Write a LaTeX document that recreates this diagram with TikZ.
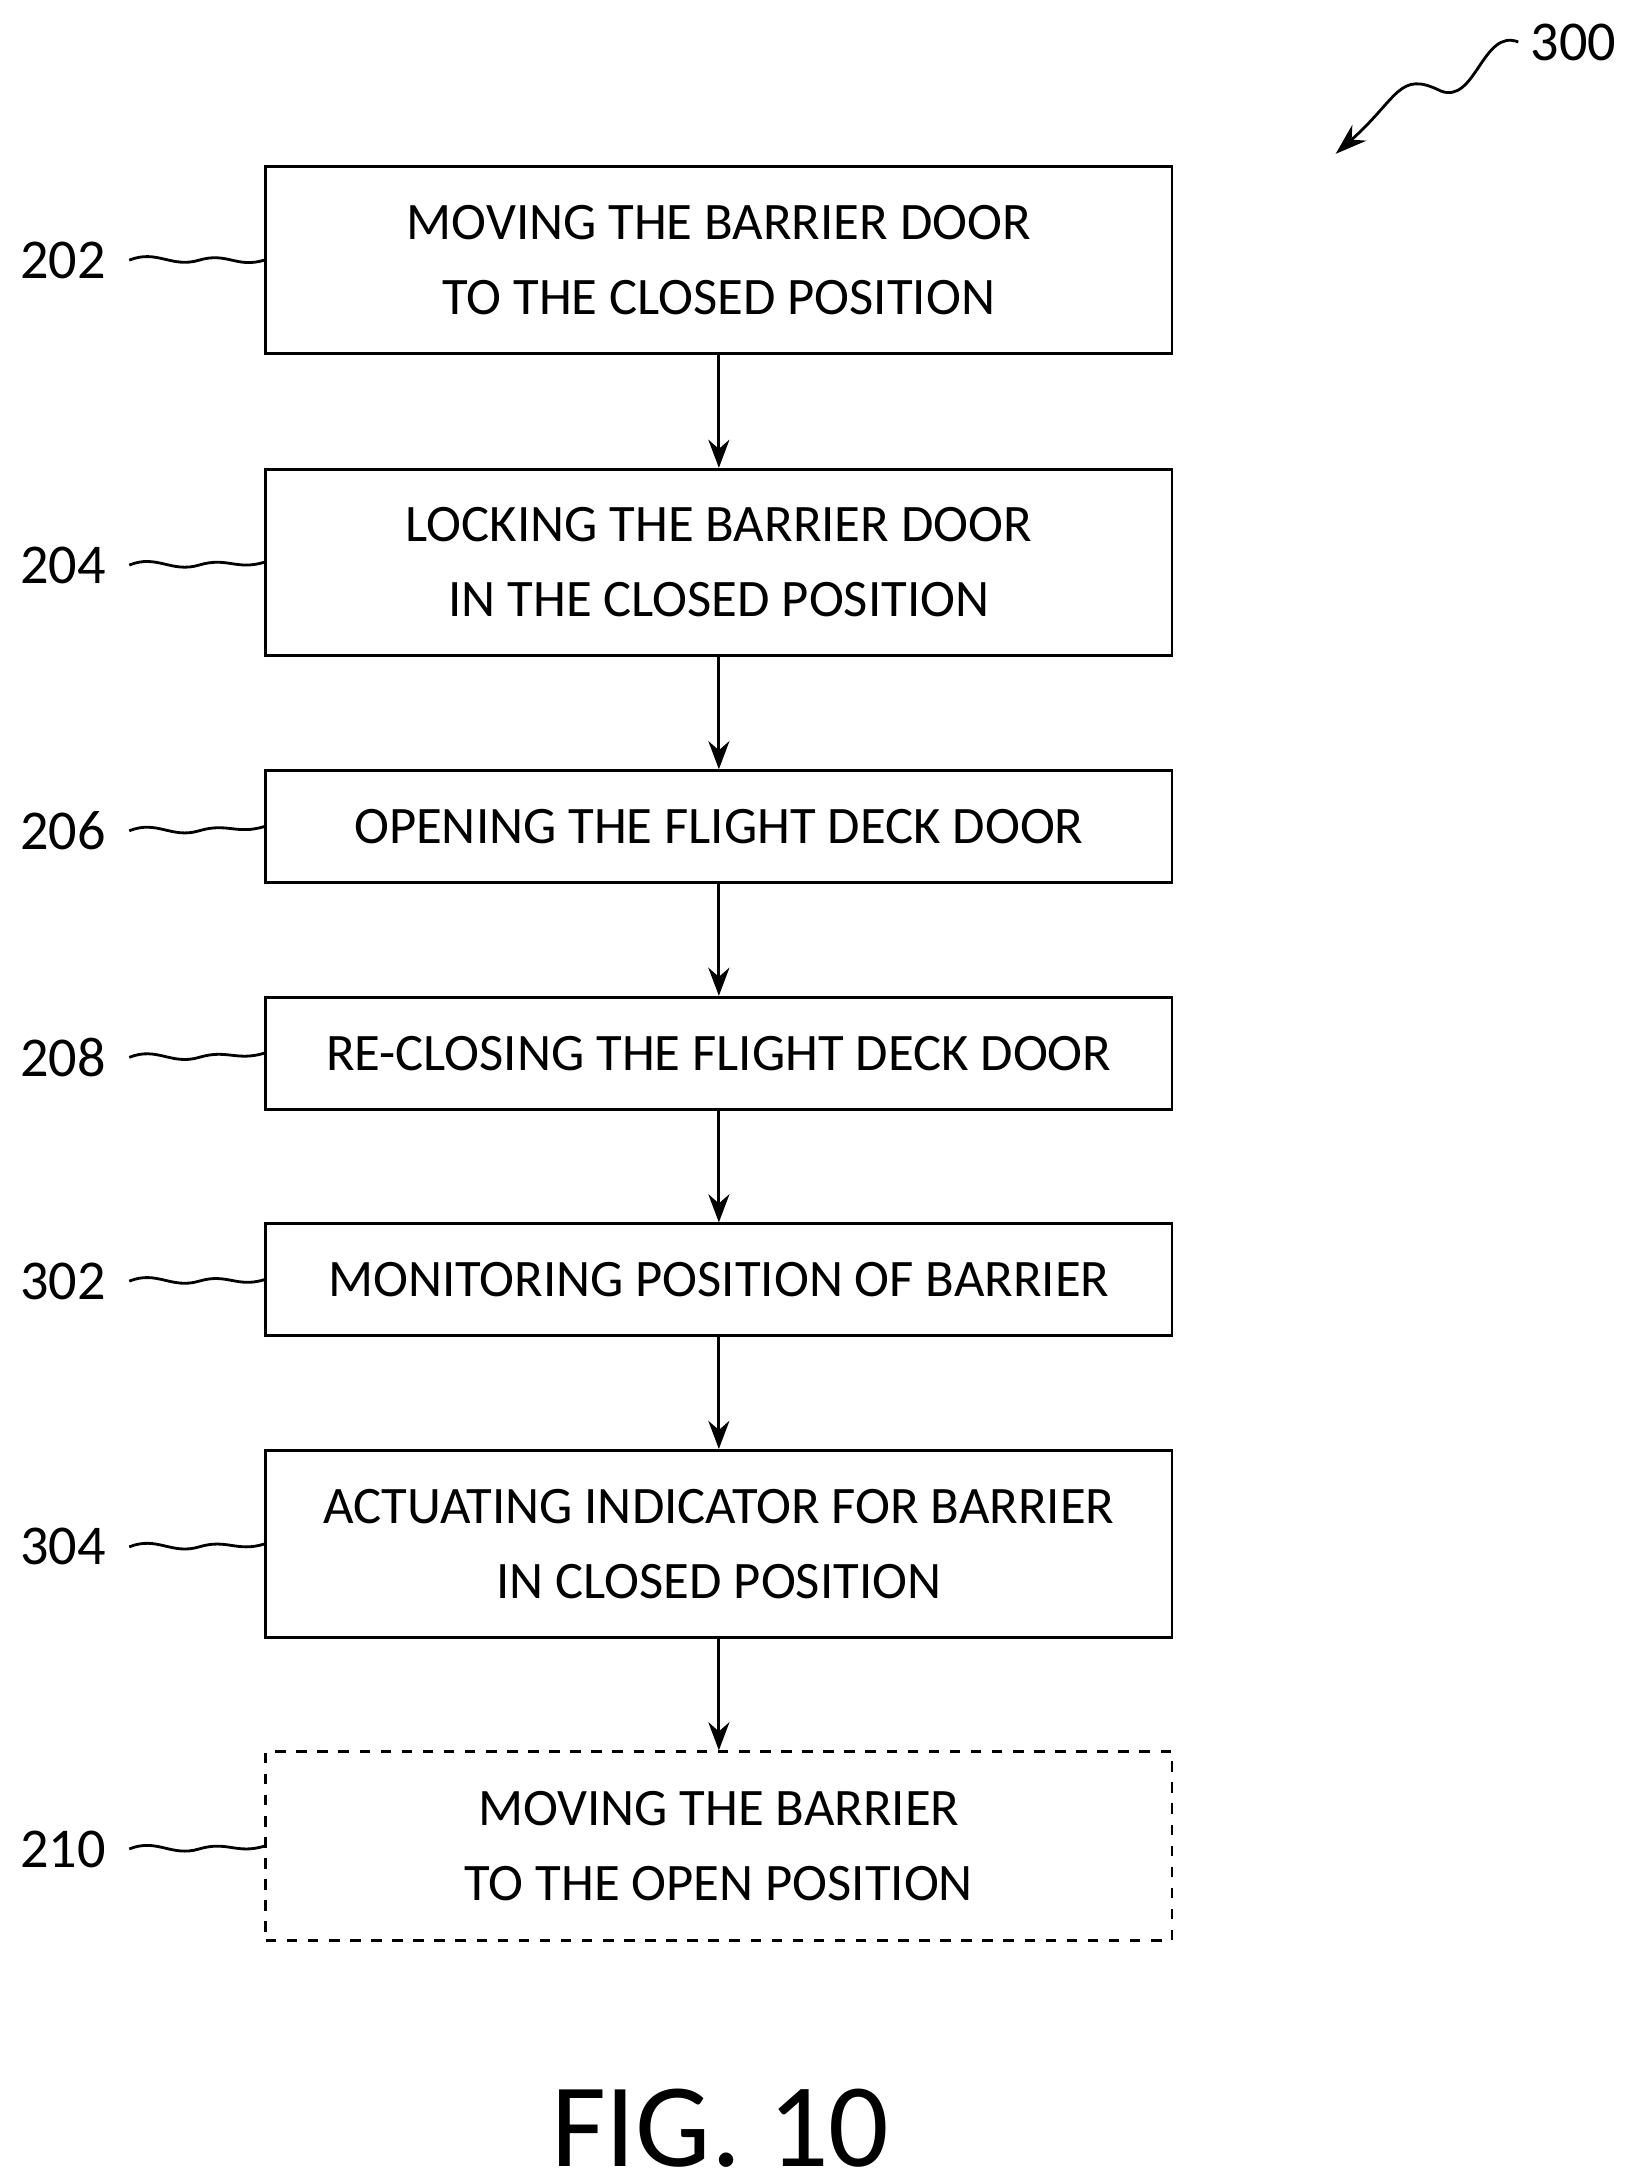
\documentclass[tikz,border=0pt]{standalone}
\usepackage{fontspec}
\setmainfont{Carlito}
\usetikzlibrary{arrows.meta}
\begin{document}
\begin{tikzpicture}[x=0.013986cm,y=-0.013986cm,
	stepbox/.style={draw,thick,minimum width=648*0.013986cm,align=center,font=\fontsize{15}{21.5}\selectfont,inner sep=0pt},
	lbl/.style={font=\fontsize{16}{20}\selectfont},
	flow/.style={-{Stealth[length=8pt,width=6pt]},thick},
	wave/.style={thick}]
	\useasboundingbox (0,0) rectangle (1164,1558);
	
	% steps
	\node[stepbox,minimum height=134*0.013986cm] (s202) at (514,186) {MOVING THE BARRIER DOOR\\TO THE CLOSED POSITION};
	\node[stepbox,minimum height=133*0.013986cm] (s204) at (514,402) {LOCKING THE BARRIER DOOR\\IN THE CLOSED POSITION};
	\node[stepbox,minimum height=80*0.013986cm] (s206) at (514,591) {OPENING THE FLIGHT DECK DOOR};
	\node[stepbox,minimum height=80*0.013986cm] (s208) at (514,753) {RE-CLOSING THE FLIGHT DECK DOOR};
	\node[stepbox,minimum height=80*0.013986cm] (s302) at (514,915) {MONITORING POSITION OF BARRIER};
	\node[stepbox,minimum height=134*0.013986cm] (s304) at (514,1104) {ACTUATING INDICATOR FOR BARRIER\\IN CLOSED POSITION};
	\node[stepbox,dashed,minimum height=135*0.013986cm] (s210) at (514,1320) {MOVING THE BARRIER\\TO THE OPEN POSITION};
	
	% arrows
	\draw[flow] (s202) -- (s204);
	\draw[flow] (s204) -- (s206);
	\draw[flow] (s206) -- (s208);
	\draw[flow] (s208) -- (s302);
	\draw[flow] (s302) -- (s304);
	\draw[flow] (s304) -- (s210);
	
	% reference numerals
	\foreach \n/\y in {202/186,204/404,206/594,208/756,302/916,304/1106,210/1322}{
		\node[lbl] (l\n) at (45,\y) {\n};
		\draw[wave] (l\n.east) ++(8,0) .. controls +(20,-8) and +(-20,6) .. +(50,0) .. controls +(20,-6) and +(-20,6) .. (s\n.west);
	}
	
	% figure number
	\node[lbl] (n300) at (1125,30) {300};
	\coordinate (a300) at (955,110);
	\draw[wave,-{Stealth[length=9pt,width=6pt]}] (n300.west) .. controls (1060,20) and (1055,75) .. (1030,65) .. controls (1000,50) and (1000,70) .. (a300);
	
	\node[font=\fontsize{34}{34}\selectfont] (fig) at (515,1522) {FIG. 10};
\end{tikzpicture}
\end{document}
